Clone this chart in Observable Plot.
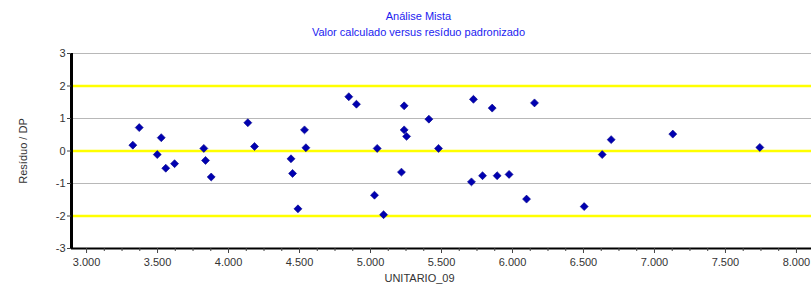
<!DOCTYPE html>
<html>
<head>
<meta charset="utf-8">
<script src="https://cdn.jsdelivr.net/npm/d3@7"></script>
<script src="https://cdn.jsdelivr.net/npm/@observablehq/plot@0.6"></script>
<style>
  html, body { margin: 0; padding: 0; background: #fff; }
  body { width: 811px; font-family: "Liberation Sans", Arial, sans-serif; }
  #head { height: 45px; text-align: center; color: #1c1cf0; font-size: 11px; line-height: 16px; box-sizing: border-box; padding-left: 26px; }
  #head .t1 { padding-top: 8px; }
</style>
</head>
<body>
<div id="head"><div class="t1" id="t1"></div><div id="t2"></div></div>
<div id="chart"></div>
<script>
const title = "Análise Mista";
const subtitle = "Valor calculado versus resíduo padronizado";
const xLabel = "UNITARIO_09";
const yLabel = "Resíduo / DP";

const valorCalculado = [
  3326, 3371, 3498, 3526, 3558, 3620, 3826, 3838, 3878, 4136,
  4183, 4440, 4451, 4489, 4535, 4545, 4847, 4901, 5028, 5047,
  5092, 5218, 5237, 5237, 5254, 5411, 5479, 5711, 5725, 5789,
  5857, 5892, 5976, 6099, 6155, 6505, 6632, 6695, 7129, 7742
];
const residuoDP = [
  0.18, 0.72, -0.11, 0.41, -0.53, -0.39, 0.08, -0.29, -0.80, 0.87,
  0.14, -0.24, -0.69, -1.78, 0.65, 0.10, 1.67, 1.44, -1.36, 0.08,
  -1.96, -0.65, 1.39, 0.65, 0.45, 0.98, 0.08, -0.95, 1.59, -0.76,
  1.32, -0.76, -0.72, -1.48, 1.48, -1.71, -0.11, 0.35, 0.52, 0.11
];
const xTicks = [3000, 3500, 4000, 4500, 5000, 5500, 6000, 6500, 7000, 7500, 8000];
const yTicks = [-3, -2, -1, 0, 1, 2, 3];
const yellowLines = [-2, 0, 2];
const grayLines = [-1, 1, 3];

document.getElementById("t1").textContent = title;
document.getElementById("t2").textContent = subtitle;

const data = valorCalculado.map((v, i) => ({x: v, y: residuoDP[i]}));
const minorX = d3.range(2875, 8125, 125).filter(v => v % 500 !== 0 && v > 2894);
const fmt = d3.formatLocale({decimal: ",", thousands: ".", grouping: [3], currency: ["R$", ""]}).format(",d");

const chart = Plot.plot({
  width: 811,
  height: 244,
  marginLeft: 71,
  marginRight: 0,
  marginTop: 8,
  marginBottom: 41,
  style: {fontFamily: "'Liberation Sans', Arial, sans-serif", fontSize: "11px", color: "#333"},
  x: {domain: [2894, 8106]},
  y: {domain: [-3, 3]},
  marks: [
    Plot.ruleY(grayLines, {stroke: "#b8b8b8", strokeWidth: 1.2}),
    Plot.ruleY(yellowLines, {stroke: "#ffff00", strokeWidth: 2.5}),
    Plot.ruleY([-3], {stroke: "#000", strokeWidth: 2}),
    Plot.ruleX([2894], {stroke: "#000", strokeWidth: 3}),
    Plot.axisX(minorX, {tickSize: 3, text: null, label: null, stroke: "#444"}),
    Plot.axisX(xTicks, {tickSize: 5, tickPadding: 5, tickFormat: fmt, stroke: "#444", label: null}),
    Plot.text([xLabel], {frameAnchor: "bottom", dx: -22, dy: 33, fill: "#333", fontSize: 11}),
    Plot.axisY(yTicks, {tickSize: 4, tickPadding: 2, tickFormat: d => d, stroke: "#444", label: yLabel, labelAnchor: "center", labelOffset: 52, labelArrow: "none"}),
    Plot.dot(data, {x: "x", y: "y", symbol: "diamond2", r: 3.6, fill: "#0000b0", stroke: "#00008a", strokeWidth: 0.6})
  ]
});
document.getElementById("chart").appendChild(chart);
</script>
</body>
</html>
